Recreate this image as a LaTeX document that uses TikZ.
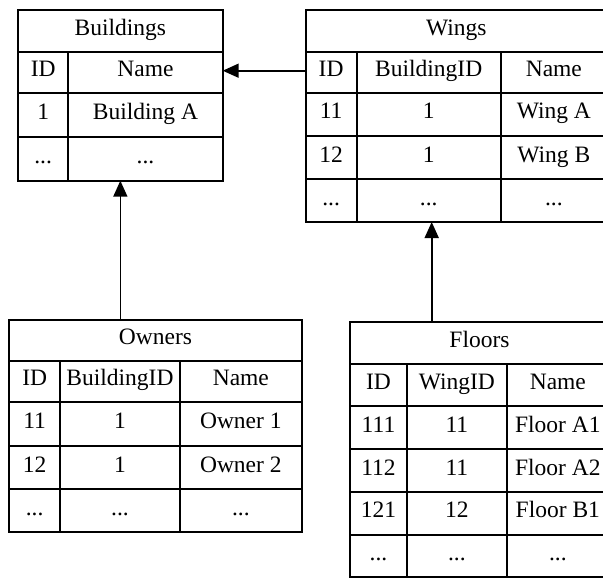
\documentclass[tikz,border=0pt]{standalone}
\usepackage{fontspec}
\setmainfont{Liberation Serif}
\usetikzlibrary{fit,arrows.meta}
\newcommand\tc[6]{\node[cell, minimum width={(#4-#2)*1pt}, minimum height={(#5-#3)*1pt}] (#1) at ({(#2+#4)/2},{(#3+#5)/2}) {#6};}
\begin{document}
\begin{tikzpicture}[x=1pt,y=-1pt,
  cell/.style={draw, line width=2pt, inner sep=0pt, outer sep=0pt, anchor=center,
    font=\fontsize{23.5pt}{28pt}\selectfont, text height=16pt, text depth=7pt},
  tbl/.style={inner sep=0pt},
  conn/.style={line width=1.7pt, -{Triangle[length=16pt,width=14pt]}}]
\useasboundingbox (0,0) rectangle (603,578);
\clip (0,0) rectangle (603,578);
% Buildings
\tc{B-h}{18}{10}{222.7}{51.7}{Buildings}
\tc{B-1-1}{18}{51.7}{68.3}{93.3}{ID}
\tc{B-1-2}{68.3}{51.7}{222.7}{93.3}{Name}
\tc{B-2-1}{18}{93.3}{68.3}{136.5}{1}
\tc{B-2-2}{68.3}{93.3}{222.7}{136.5}{Building A}
\tc{B-3-1}{18}{136.5}{68.3}{180.5}{...}
\tc{B-3-2}{68.3}{136.5}{222.7}{180.5}{...}
\node[tbl, fit=(B-h)(B-3-2)] (B) {};
% Wings
\tc{W-h}{305.5}{10}{607}{51.7}{Wings}
\tc{W-1-1}{305.5}{51.7}{356.7}{92.7}{ID}
\tc{W-1-2}{356.7}{51.7}{500.7}{92.7}{BuildingID}
\tc{W-1-3}{500.7}{51.7}{607}{92.7}{Name}
\tc{W-2-1}{305.5}{92.7}{356.7}{136}{11}
\tc{W-2-2}{356.7}{92.7}{500.7}{136}{1}
\tc{W-2-3}{500.7}{92.7}{607}{136}{Wing A}
\tc{W-3-1}{305.5}{136}{356.7}{179.3}{12}
\tc{W-3-2}{356.7}{136}{500.7}{179.3}{1}
\tc{W-3-3}{500.7}{136}{607}{179.3}{Wing B}
\tc{W-4-1}{305.5}{179.3}{356.7}{222}{...}
\tc{W-4-2}{356.7}{179.3}{500.7}{222}{...}
\tc{W-4-3}{500.7}{179.3}{607}{222}{...}
\node[tbl, fit=(W-h)(W-4-3)] (W) {};
% Owners
\tc{O-h}{9.3}{319.5}{301.7}{360.7}{Owners}
\tc{O-1-1}{9.3}{360.7}{60}{401.7}{ID}
\tc{O-1-2}{60}{360.7}{180}{401.7}{BuildingID}
\tc{O-1-3}{180}{360.7}{301.7}{401.7}{Name}
\tc{O-2-1}{9.3}{401.7}{60}{445.7}{11}
\tc{O-2-2}{60}{401.7}{180}{445.7}{1}
\tc{O-2-3}{180}{401.7}{301.7}{445.7}{Owner 1}
\tc{O-3-1}{9.3}{445.7}{60}{489.3}{12}
\tc{O-3-2}{60}{445.7}{180}{489.3}{1}
\tc{O-3-3}{180}{445.7}{301.7}{489.3}{Owner 2}
\tc{O-4-1}{9.3}{489.3}{60}{532.3}{...}
\tc{O-4-2}{60}{489.3}{180}{532.3}{...}
\tc{O-4-3}{180}{489.3}{301.7}{532.3}{...}
\node[tbl, fit=(O-h)(O-4-3)] (O) {};
% Floors
\tc{F-h}{350}{322}{609}{364}{Floors}
\tc{F-1-1}{350}{364}{407}{406}{ID}
\tc{F-1-2}{407}{364}{506.7}{406}{WingID}
\tc{F-1-3}{506.7}{364}{609}{406}{Name}
\tc{F-2-1}{350}{406}{407}{449.3}{111}
\tc{F-2-2}{407}{406}{506.7}{449.3}{11}
\tc{F-2-3}{506.7}{406}{609}{449.3}{Floor A1}
\tc{F-3-1}{350}{449.3}{407}{491.7}{112}
\tc{F-3-2}{407}{449.3}{506.7}{491.7}{11}
\tc{F-3-3}{506.7}{449.3}{609}{491.7}{Floor A2}
\tc{F-4-1}{350}{491.7}{407}{535}{121}
\tc{F-4-2}{407}{491.7}{506.7}{535}{12}
\tc{F-4-3}{506.7}{491.7}{609}{535}{Floor B1}
\tc{F-5-1}{350}{535}{407}{577}{...}
\tc{F-5-2}{407}{535}{506.7}{577}{...}
\tc{F-5-3}{506.7}{535}{609}{577}{...}
\node[tbl, fit=(F-h)(F-5-3)] (F) {};
% connectors
\draw[conn] ([yshift=1.5pt]W-1-1.west) -- ([yshift=1.5pt]W-1-1.west -| B-1-2.east);
\draw[conn] (B.south |- O.north) -- (B.south);
\coordinate (wf) at ([xshift=3pt]W-4-2.south);
\draw[conn] (wf |- F.north) -- (wf);
\end{tikzpicture}
\end{document}
